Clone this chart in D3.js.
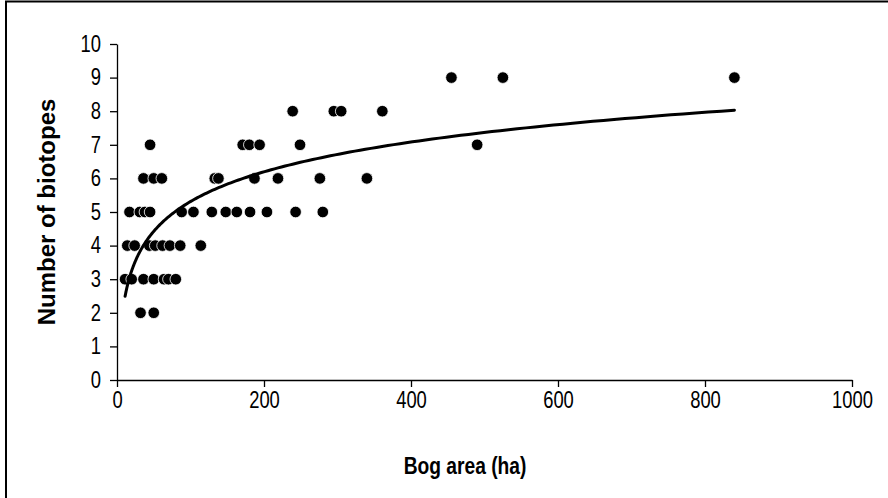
<!DOCTYPE html>
<html>
<head>
<meta charset="utf-8">
<script src="https://cdn.jsdelivr.net/npm/d3@7"></script>
<style>
  body { margin: 0; background: #fff; }
  svg { display: block; }
</style>
</head>
<body>
<svg></svg>
<script>
// bog area (ha) and number of biotopes, one pair per bog
const bogArea = [
    32, 50,
    11, 20, 36, 50, 64, 70, 80,
    14, 24, 44, 52, 62, 72, 86, 114,
    17, 31, 38, 45, 88, 104, 129, 148, 163, 181, 204, 243, 280,
    36, 50, 61, 133, 138, 187, 219, 276, 340,
    45, 171, 180, 194, 249, 490,
    239, 295, 305, 361,
    455, 525, 840
];
const biotopes = [
    2, 2,
    3, 3, 3, 3, 3, 3, 3,
    4, 4, 4, 4, 4, 4, 4, 4,
    5, 5, 5, 5, 5, 5, 5, 5, 5, 5, 5, 5, 5,
    6, 6, 6, 6, 6, 6, 6, 6, 6,
    7, 7, 7, 7, 7, 7,
    8, 8, 8, 8,
    9, 9, 9
];
const xTicks = [0, 200, 400, 600, 800, 1000];
const yTicks = [0, 1, 2, 3, 4, 5, 6, 7, 8, 9, 10];

const width = 888;
const height = 498;
const margin = { top: 44, right: 36, bottom: 118, left: 117 };
const squeeze = 0.8; // the lettering in the original is narrow

const data = bogArea.map((a, i) => ({ area: a, n: biotopes[i] }));

const x = d3.scaleLinear()
    .domain([0, 1000])
    .range([margin.left, width - margin.right]);

const y = d3.scaleLinear()
    .domain([0, 10])
    .range([height - margin.bottom, margin.top]);

// logarithmic trendline, least squares on ln(area)
const lx = data.map(d => Math.log(d.area));
const mx = d3.mean(lx);
const my = d3.mean(data, d => d.n);
const slope = d3.sum(data, (d, i) => (lx[i] - mx) * (d.n - my)) /
    d3.sum(lx, v => (v - mx) ** 2);
const intercept = my - slope * mx;

const [minA, maxA] = d3.extent(data, d => d.area);
const trend = d3.range(0, 201).map(i => {
    const a = minA * Math.pow(maxA / minA, i / 200);
    return [a, slope * Math.log(a) + intercept];
});

const svg = d3.select("svg")
    .attr("width", width)
    .attr("height", height)
    .attr("viewBox", [0, 0, width, height])
    .style("font-family", "Arial, 'Liberation Sans', sans-serif");

// chart frame, runs off the right and bottom edges
svg.append("rect")
    .attr("x", 6)
    .attr("y", 1.5)
    .attr("width", width + 10)
    .attr("height", height + 10)
    .attr("fill", "none")
    .attr("stroke", "#000")
    .attr("stroke-width", 2);

const xAxis = svg.append("g")
    .attr("transform", `translate(0,${y(0)})`)
    .call(d3.axisBottom(x).tickValues(xTicks).tickFormat(d3.format("d"))
        .tickSize(7).tickSizeOuter(0).tickPadding(5));

const yAxis = svg.append("g")
    .attr("transform", `translate(${x(0)},0)`)
    .call(d3.axisLeft(y).tickValues(yTicks).tickSize(7).tickSizeOuter(0).tickPadding(9));

[xAxis, yAxis].forEach(g => {
    g.select(".domain").attr("stroke", "#000").attr("stroke-width", 1.3);
    g.selectAll(".tick line").attr("stroke", "#000").attr("stroke-width", 1.3);
    g.selectAll(".tick text")
        .attr("fill", "#000")
        .attr("transform", `scale(${squeeze},1)`)
        .style("font-size", "23px");
});
yAxis.selectAll(".tick text").attr("x", -16 / squeeze);

svg.append("g")
    .selectAll("circle")
    .data(data)
    .join("circle")
    .attr("cx", d => x(d.area))
    .attr("cy", d => y(d.n))
    .attr("r", 5.8)
    .attr("fill", "#000")
    .attr("stroke", "#fff")
    .attr("stroke-width", 0.8);

svg.append("path")
    .datum(trend)
    .attr("fill", "none")
    .attr("stroke", "#000")
    .attr("stroke-width", 3)
    .attr("stroke-linecap", "round")
    .attr("d", d3.line(d => x(d[0]), d => y(d[1])));

svg.append("text")
    .attr("transform", `translate(465,474) scale(${squeeze},1)`)
    .attr("text-anchor", "middle")
    .style("font-size", "24px")
    .style("font-weight", "bold")
    .text("Bog area (ha)");

svg.append("text")
    .attr("transform", `translate(55,${(y(0) + y(10)) / 2}) rotate(-90)`)
    .attr("text-anchor", "middle")
    .style("font-size", "24px")
    .style("font-weight", "bold")
    .text("Number of biotopes");
</script>
</body>
</html>
